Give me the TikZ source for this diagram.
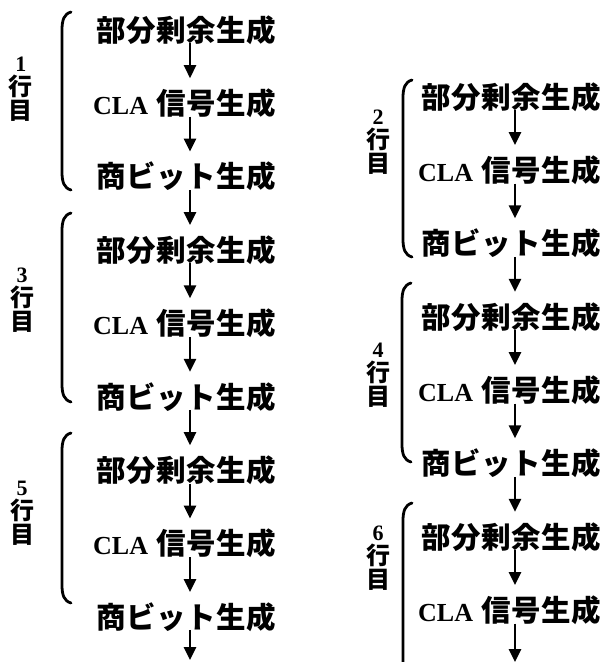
\documentclass[tikz,border=0pt]{standalone}
\usepackage{fontspec}
\usetikzlibrary{arrows.meta}
\newfontfamily\jpw[LetterSpace=2]{Noto Sans CJK JP}
\newfontfamily\jpl{Noto Sans CJK JP}
\newfontfamily\lsb{Liberation Serif}
\newcommand{\lat}{\fontsize{26}{26}\selectfont\lsb\bfseries}
\newcommand{\jt}{\fontsize{29.5}{29.5}\selectfont\jpw\bfseries}
\newcommand{\dg}{\fontsize{22}{24}\selectfont\lsb\bfseries}
\begin{document}
\begin{tikzpicture}[x=1pt,y=-1pt,
  stage/.style={anchor=west,inner sep=0pt,text height=24pt,text depth=2pt},
  rowlabel/.style={inner sep=0pt,align=center,font=\fontsize{24}{24}\selectfont},
  arr/.style={line width=2.6pt,-{Triangle[width=12pt,length=13pt]},shorten >=12pt},
  arrend/.style={line width=2.6pt,-{Triangle[width=12pt,length=13pt]}},
  brace/.style={line width=2.8pt,line cap=round}]
\useasboundingbox (0,0) rectangle (605,662);
\coordinate (axL) at (190,0);
\coordinate (axR) at (515,0);
% left column
\foreach \n/\y in {1/30,3/250.2,5/470.4}{
  \node[stage] (L\n a) at (96,\y) {\jt 部分剰余生成};
  \node[stage] (L\n b) at (93,\y+73.4) {{\lat CLA}\hspace{8pt}{\jt 信号生成}};
  \node[stage] (L\n c) at (96,\y+146.8) {\jt 商ビット生成};
}
% right column
\foreach \n/\y in {2/97,4/317}{
  \node[stage] (R\n a) at (421,\y) {\jt 部分剰余生成};
  \node[stage] (R\n b) at (418,\y+73.3) {{\lat CLA}\hspace{8pt}{\jt 信号生成}};
  \node[stage] (R\n c) at (421,\y+146.6) {\jt 商ビット生成};
}
\node[stage] (R6a) at (421,537) {\jt 部分剰余生成};
\node[stage] (R6b) at (418,610.3) {{\lat CLA}\hspace{8pt}{\jt 信号生成}};
\coordinate (endL) at (190,660);
\coordinate (endR) at (515,662);
% arrows left
\foreach \a/\b in {L1a/L1b,L1b/L1c,L1c/L3a,L3a/L3b,L3b/L3c,L3c/L5a,L5a/L5b,L5b/L5c}
  \draw[arr] (\a.south -| axL) -- (\b.north -| axL);
\draw[arrend] (L5c.south -| axL) -- (endL);
% arrows right
\foreach \a/\b in {R2a/R2b,R2b/R2c,R2c/R4a,R4a/R4b,R4b/R4c,R4c/R6a,R6a/R6b}
  \draw[arr] (\a.south -| axR) -- (\b.north -| axR);
\draw[arrend] (R6b.south -| axR) -- (endR);
% brackets
\foreach \x/\t/\b in {62/12/190,62/213/402,62/433/603,403/80/257,402/283/462}
  \draw[brace] (\x+9,\t) .. controls (\x+2,\t+2) and (\x,\t+8) .. (\x,\t+18)
     -- (\x,\b-18) .. controls (\x,\b-8) and (\x+2,\b-2) .. (\x+9,\b);
\draw[brace] (412,503) .. controls (405,505) and (403,511) .. (403,521) -- (403,664);
% labels
\node[rowlabel] (lab1) at (21,89) {{\dg 1}\\{\jpl\bfseries 行}\\{\jpl\bfseries 目}};
\node[rowlabel] (lab3) at (22,300) {{\dg 3}\\{\jpl\bfseries 行}\\{\jpl\bfseries 目}};
\node[rowlabel] (lab5) at (22,513) {{\dg 5}\\{\jpl\bfseries 行}\\{\jpl\bfseries 目}};
\node[rowlabel] (lab2) at (378,142) {{\dg 2}\\{\jpl\bfseries 行}\\{\jpl\bfseries 目}};
\node[rowlabel] (lab4) at (378,375) {{\dg 4}\\{\jpl\bfseries 行}\\{\jpl\bfseries 目}};
\node[rowlabel] (lab6) at (378,558) {{\dg 6}\\{\jpl\bfseries 行}\\{\jpl\bfseries 目}};
\end{tikzpicture}
\end{document}
